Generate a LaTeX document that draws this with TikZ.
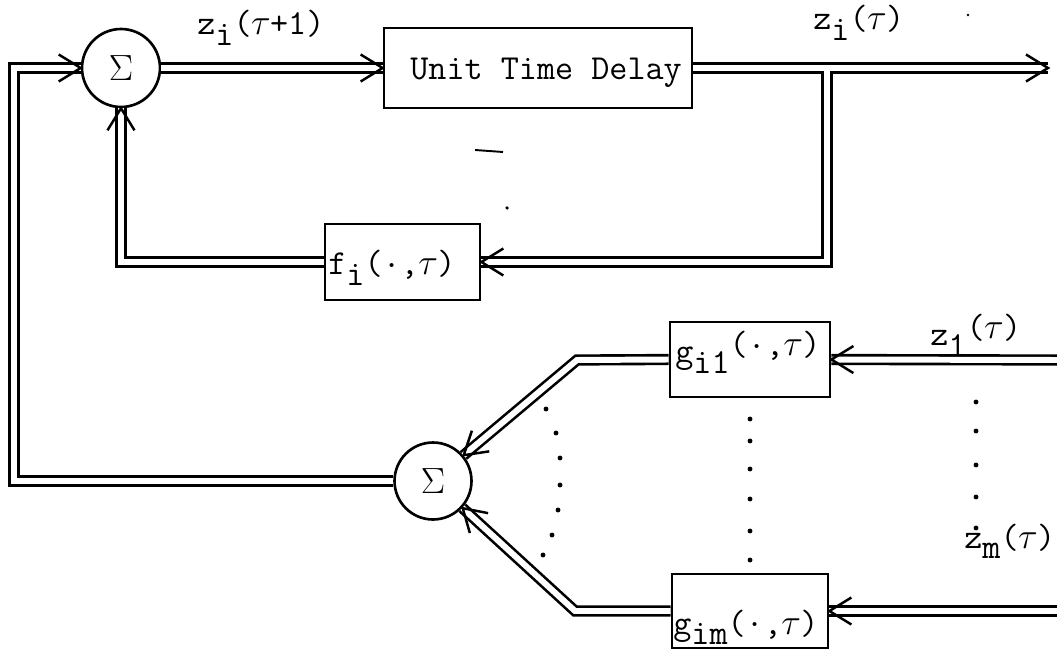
\documentclass[tikz,border=0pt]{standalone}
\usepackage{fontspec}
\usetikzlibrary{decorations.markings}

% typewriter half-line shifts and fixed-pitch symbols
\newcommand\lowr[1]{\raisebox{-0.31em}{#1}}
\newcommand\upr[1]{\raisebox{0.2em}{#1}}
\newcommand\tu{\makebox[0.525em]{$\tau$}}
\newcommand\md{\raisebox{0.22em}{.}}

\begin{document}
\begin{tikzpicture}[x=0.02cm, y=-0.02cm,
  wire/.style={line width=1.5pt, double=white, double distance=3.4pt, line join=miter},
  blk/.style={draw, line width=1.6pt, inner sep=0pt},
  sumnode/.style={draw, circle, line width=1.5pt, inner sep=0pt, minimum size=1.56cm,
                  font=\fontsize{20}{20}\selectfont},
  lbl/.style={inner sep=0pt, anchor=base west, font=\fontsize{20}{22}\selectfont\ttfamily},
  chev/.style={line width=1.4pt, line join=miter},
  tipend/.style={decoration={markings, mark=at position 1 with
      {\draw[chev] (-22,-13.5) -- (0,0) -- (-22,13.5);}}, postaction={decorate}},
  speck/.style={fill=black}
]
\useasboundingbox (0,0) rectangle (1057,651);

% blocks
\node[sumnode] (sum1) at (121,68) {$\Sigma$};
\node[blk, minimum width=6.16cm, minimum height=1.6cm] (utd) at (538,68) {};
\node[blk, minimum width=3.1cm, minimum height=1.52cm] (fbox) at (402.5,262) {};
\node[sumnode, minimum size=1.54cm] (sum2) at (433,481) {$\Sigma$};
\node[blk, minimum width=3.2cm, minimum height=1.5cm] (g1) at (750,359.5) {};
\node[blk, minimum width=3.12cm, minimum height=1.48cm] (gm) at (750,611) {};

% helper points
\coordinate (outtip) at (1048,68);
\coordinate (tap) at (827,68);
\coordinate (lcb) at (14,481);
\coordinate (k1) at (577,360);
\coordinate (k2) at (575,611);
\coordinate (in1) at (1057,360);
\coordinate (in2) at (1057,611);

% double-line connectors
\draw[wire] (sum2.west) -- (lcb) |- (sum1.west);
\draw[wire] (sum1.east) -- (utd.west);
\draw[wire] (outtip) -- (utd.east) (tap) |- (fbox.east);
\draw[wire] (fbox.west) -| (sum1.south);
\draw[wire] (g1.west) -- (k1) -- (sum2);
\draw[wire] (gm.west) -- (k2) -- (sum2);
\draw[wire] (in1) -- (g1.east);
\draw[wire] (in2) -- (gm.east);

% open arrow heads
\path[tipend] (lcb |- sum1.west) -- (sum1.west);
\path[tipend] (sum1.east) -- (utd.west);
\path[tipend] (tap) -- (outtip);
\path[tipend] (tap |- fbox.east) -- (fbox.east);
\path[tipend] (sum1.south |- fbox.west) -- (sum1.south);
\path[tipend] (k1) -- (sum2);
\path[tipend] (k2) -- (sum2);
\path[tipend] (in1) -- (g1.east);
\path[tipend] (in2) -- (gm.east);

% labels
\node[lbl] (lz1) at (197,35) {z\lowr{i}(\tu+1)};
\node[lbl] (lz2) at (813,30) {z\lowr{i}(\tu)};
\node[lbl] (lutd) at (410,80) {Unit Time Delay};
\node[lbl] (lf) at (328,275) {f\lowr{i}(\md,\tu)};
\node[lbl] (lg1) at (675,363) {g\lowr{i1}\upr{(\md,\tu)}};
\node[lbl] (lgm) at (673,634) {g\lowr{im}(\md,\tu)};
\node[lbl] (lzin1) at (930,346) {z\lowr{1}\upr{(\tu)}};
\node[lbl] (lzinm) at (964,548) {z\lowr{m}(\tu)};

% ellipsis dots between the input branches
\foreach \p in {(546,409),(556,433),(560,458),(560,485),(558,510),(552,535),(543,555)}
  \fill[speck] \p circle (1.4pt);
\foreach \p in {(750,419),(750,441),(750,469),(750,499),(750,531),(750,560)}
  \fill[speck] \p circle (1.4pt);
\foreach \p in {(976,402),(976,431),(976,465),(976,497),(976,528)}
  \fill[speck] \p circle (1.4pt);

% stray marks
\draw[line width=1.1pt] (475,150) -- (503,152);
\fill[speck] (507,208) circle (1pt);
\fill[speck] (968,15) circle (0.8pt);
\end{tikzpicture}
\end{document}
